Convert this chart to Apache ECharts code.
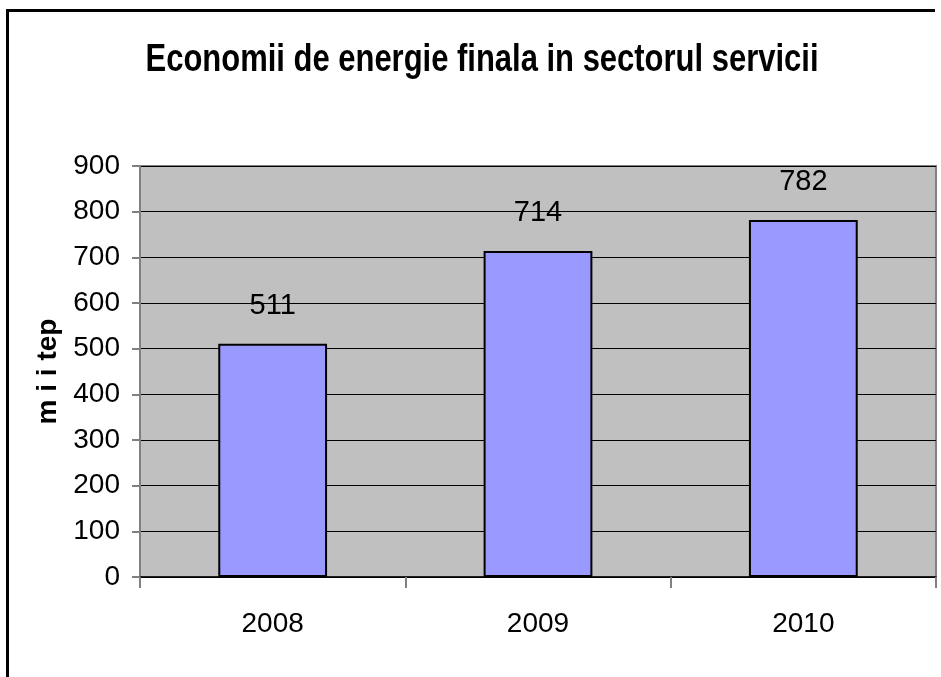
<!DOCTYPE html>
<html>
<head>
<meta charset="utf-8">
<script src="https://cdn.jsdelivr.net/npm/echarts@6/dist/echarts.min.js"></script>
<style>html,body{margin:0;padding:0;background:#fff}#c{width:941px;height:677px}</style>
</head>
<body>
<div id="c"></div>
<script>
const titleText = 'Economii de energie finala in sectorul servicii';
const yAxisName = 'm i i tep';
const categories = ['2008', '2009', '2010'];
const values = [511, 714, 782];
const yTicks = { min: 0, max: 900, interval: 100 };

const FONT = "'Liberation Sans', Arial, sans-serif";
const chart = echarts.init(document.getElementById('c'), null, { renderer: 'canvas' });
chart.setOption({
  backgroundColor: '#ffffff',
  animation: false,
  graphic: [{
    type: 'polyline',
    shape: { points: [[7.5, 680], [7.5, 10.5], [935, 10.5]] },
    style: { stroke: '#000', lineWidth: 3, fill: null },
    silent: true
  }, {
    type: 'text',
    x: 482, y: 61,
    scaleX: 0.815,
    silent: true,
    style: {
      text: titleText,
      textAlign: 'center',
      textVerticalAlign: 'middle',
      font: 'bold 38px ' + FONT,
      fill: '#000'
    }
  }],
  grid: {
    left: 140, top: 166, right: 5, bottom: 100,
    show: true, backgroundColor: '#c0c0c0', borderColor: '#808080', borderWidth: 2
  },
  xAxis: {
    type: 'category',
    data: categories,
    axisLine: { show: true, lineStyle: { color: '#000', width: 1.5 } },
    axisTick: { show: true, alignWithLabel: false, length: 11, lineStyle: { color: '#808080', width: 2 } },
    axisLabel: { margin: 33, fontFamily: FONT, fontSize: 28, color: '#000' },
    splitLine: { show: false }
  },
  yAxis: {
    type: 'value',
    min: yTicks.min, max: yTicks.max, interval: yTicks.interval,
    name: yAxisName,
    nameLocation: 'middle',
    nameGap: 48,
    nameRotate: 90,
    nameTextStyle: { fontFamily: FONT, fontWeight: 'bold', fontSize: 28, color: '#000' },
    axisLine: { show: true, lineStyle: { color: '#808080', width: 2 } },
    axisTick: { show: true, length: 8, lineStyle: { color: '#808080', width: 2 } },
    axisLabel: { margin: 20, fontFamily: FONT, fontSize: 28, color: '#000' },
    splitLine: { show: true, lineStyle: { color: '#000', width: 1 } }
  },
  series: [{
    type: 'bar',
    data: values,
    barWidth: '41%',
    itemStyle: { color: '#9999ff', borderColor: '#000', borderWidth: 2 },
    label: {
      show: true, position: 'top', distance: 23,
      fontFamily: FONT, fontSize: 29, color: '#000'
    }
  }]
});
</script>
</body>
</html>
